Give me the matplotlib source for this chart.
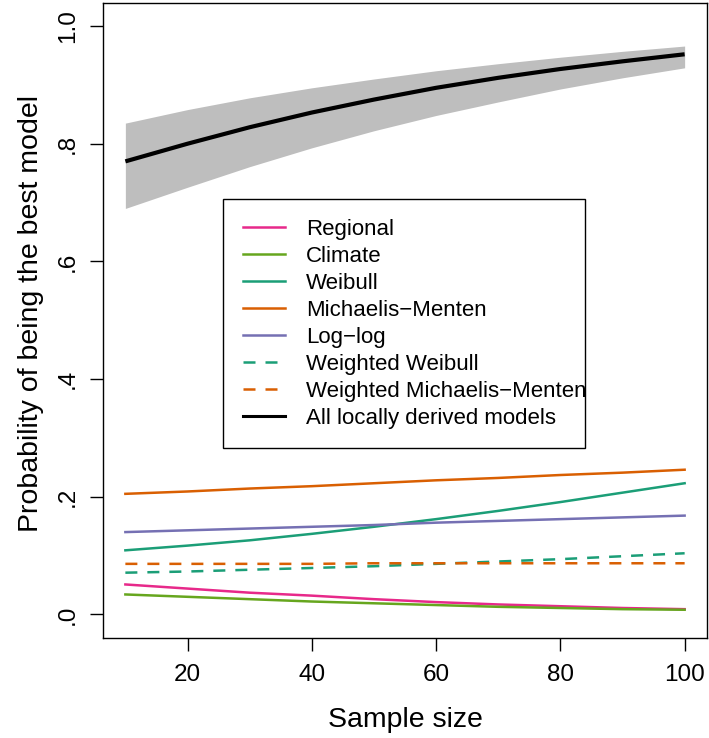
import matplotlib
matplotlib.use("Agg")
import matplotlib.pyplot as plt
import numpy as np

plt.rcParams['font.family'] = ['Liberation Sans', 'DejaVu Sans']

sample_size = [10, 20, 30, 40, 50, 60, 70, 80, 90, 100]

regional = [0.051, 0.044, 0.037, 0.032, 0.026, 0.021, 0.017, 0.014, 0.011, 0.009]
climate = [0.034, 0.030, 0.026, 0.022, 0.019, 0.016, 0.013, 0.011, 0.009, 0.008]
weibull = [0.109, 0.117, 0.126, 0.137, 0.149, 0.162, 0.176, 0.191, 0.207, 0.223]
michaelis = [0.205, 0.209, 0.214, 0.218, 0.223, 0.228, 0.232, 0.237, 0.241, 0.246]
loglog = [0.140, 0.143, 0.146, 0.149, 0.152, 0.156, 0.159, 0.162, 0.165, 0.168]
w_weibull = [0.071, 0.073, 0.076, 0.079, 0.082, 0.086, 0.090, 0.094, 0.099, 0.104]
w_michaelis = [0.086, 0.086, 0.086, 0.086, 0.087, 0.087, 0.087, 0.087, 0.087, 0.087]
all_local = [0.770, 0.800, 0.828, 0.853, 0.875, 0.895, 0.912, 0.927, 0.940, 0.952]
all_local_upper = [0.835, 0.858, 0.878, 0.895, 0.910, 0.924, 0.936, 0.947, 0.957, 0.966]
all_local_lower = [0.690, 0.726, 0.761, 0.793, 0.822, 0.848, 0.871, 0.893, 0.912, 0.929]

labels = ["Regional", "Climate", "Weibull", "Michaelis\u2212Menten", "Log\u2212log",
          "Weighted Weibull", "Weighted Michaelis\u2212Menten", "All locally derived models"]
colors = ["#E7298A", "#66A61E", "#1B9E77", "#D95F02", "#7570B3", "#1B9E77", "#D95F02", "black"]

x_ticks = [20, 40, 60, 80, 100]
y_ticks = [0.0, 0.2, 0.4, 0.6, 0.8, 1.0]
y_ticklabels = [".0", ".2", ".4", ".6", ".8", "1.0"]

fig = plt.figure(figsize=(7.09, 7.38), dpi=100)
ax = fig.add_axes([103/709, 1-638/738, 604/709, 635.5/738])

ax.fill_between(sample_size, all_local_lower, all_local_upper, color="#BEBEBE", linewidth=0)

series = [regional, climate, weibull, michaelis, loglog, w_weibull, w_michaelis]
for i, s in enumerate(series):
    ls = (0, (4.8, 4)) if i >= 5 else "-"
    ax.plot(sample_size, s, color=colors[i], lw=1.8, linestyle=ls, label=labels[i])
ax.plot(sample_size, all_local, color="black", lw=3.0, label=labels[7],
        solid_capstyle="butt")

ax.set_xlim(6.4, 103.6)
ax.set_ylim(-0.04, 1.04)
ax.set_xticks(x_ticks)
ax.set_xticklabels([str(v) for v in x_ticks], fontsize=17.5)
ax.set_yticks(y_ticks)
ax.set_yticklabels(y_ticklabels, fontsize=17.5, rotation=90, va="center", ha="right")
ax.tick_params(axis="both", direction="out", length=9.5, width=1.0, color="black")
ax.tick_params(axis="x", pad=9.5)
ax.tick_params(axis="y", pad=8)
for sp in ax.spines.values():
    sp.set_linewidth(1.0)

ax.set_xlabel("Sample size", fontsize=20.5)
ax.xaxis.label.set_va("center")
ax.xaxis.set_label_coords(0.5, -0.129)
ax.set_ylabel("Probability of being the best model", fontsize=20.5)
ax.yaxis.label.set_va("center")
ax.yaxis.set_label_coords(-0.12, 0.51)

leg_handles = []
for i in range(8):
    lw = 2.2 if i == 7 else 1.8
    ls = (0, (4.8, 4)) if i in (5, 6) else "-"
    leg_handles.append(plt.Line2D([], [], color=colors[i], lw=lw, linestyle=ls))

leg = ax.legend(leg_handles, labels, loc="upper left",
                bbox_to_anchor=((223-103)/604, (638-199)/635.5, 362/604, 0.0),
                mode="expand", fontsize=16, frameon=True, fancybox=False,
                edgecolor="black", framealpha=1, borderpad=0.88,
                labelspacing=0.27, handlelength=1.9, handletextpad=0.95,
                borderaxespad=0)
leg.get_frame().set_linewidth(1.0)

fig.savefig("out.png", dpi=100)
